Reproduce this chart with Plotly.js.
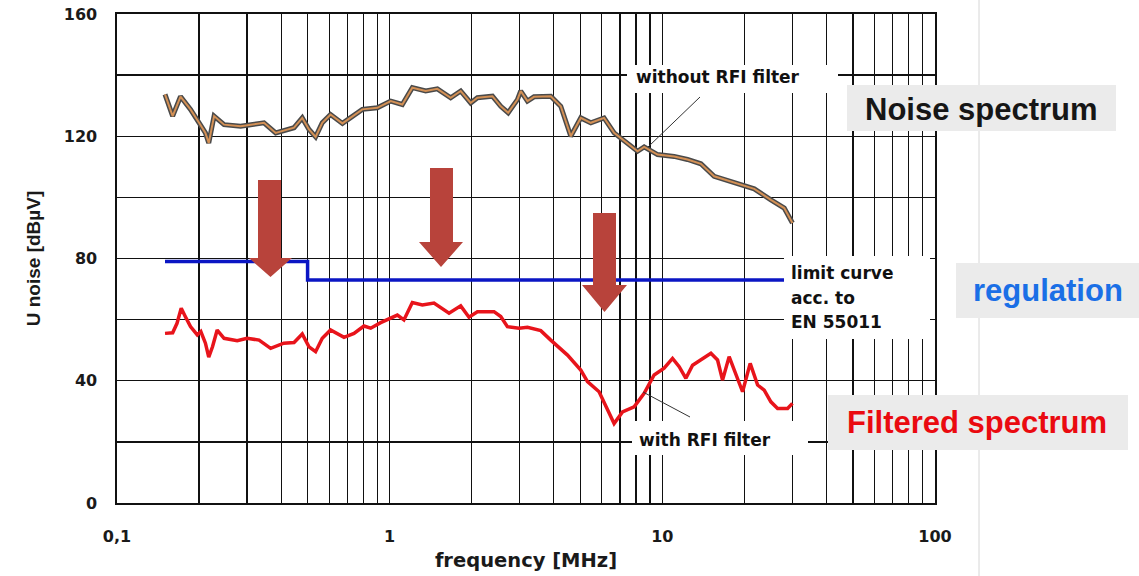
<!DOCTYPE html>
<html><head><meta charset="utf-8">
<script src="https://cdn.plot.ly/plotly-3.0.1.min.js"></script>
<style>html,body{margin:0;padding:0;background:#fff;overflow:hidden;} #chart{width:1139px;height:576px;}</style>
</head><body><div id="chart"></div>
<script>
// ---- data (frequency in MHz, level in dBµV) ----
const freqNoise = [0.150,0.160,0.171,0.186,0.200,0.211,0.217,0.227,0.247,0.284,0.346,0.382,0.446,0.478,0.506,0.535,0.566,0.607,0.671,0.719,0.794,0.901,1.009,1.113,1.211,1.356,1.496,1.674,1.822,1.982,2.098,2.382,2.555,2.720,2.942,3.025,3.201,3.384,3.898,4.242,4.616,5.022,5.466,6.114,6.655,8.110,8.577,9.603,11.05,12.37,13.85,15.49,18.34,21.73,25.01,27.99,30.0];
const dbNoise   = [133.7,126.6,133.0,128.8,124.4,121.1,117.8,126.6,123.8,123.3,124.4,121.1,122.8,126.0,122.2,119.8,124.4,127.1,124.2,126.0,128.8,129.3,131.5,130.4,135.9,134.8,135.5,132.6,134.8,130.9,132.6,133.1,129.8,127.7,132.0,134.8,131.5,132.9,133.1,129.8,120.0,126.0,124.4,126.0,121.1,115.1,116.5,114.0,113.4,112.4,111.0,106.9,104.9,102.8,99.2,96.5,91.6];

const freqFiltered = [0.150,0.160,0.166,0.172,0.178,0.186,0.197,0.203,0.211,0.217,0.224,0.233,0.247,0.276,0.300,0.332,0.366,0.409,0.446,0.478,0.506,0.535,0.566,0.607,0.680,0.740,0.805,0.852,0.927,1.009,1.067,1.128,1.211,1.318,1.454,1.651,1.822,1.954,2.098,2.414,2.555,2.703,2.982,3.201,3.582,3.898,4.489,5.022,5.315,5.861,6.295,6.655,7.143,7.880,8.577,9.330,10.15,10.90,11.53,12.20,12.91,14.05,15.07,15.94,16.63,17.58,18.61,19.69,21.00,22.36,23.64,25.01,26.47,28.80,30.0];
const dbFiltered   = [55.5,55.7,58.8,63.7,61.0,57.7,55.0,56.1,52.3,47.7,51.1,56.6,53.9,53.1,53.9,53.3,50.6,52.3,52.5,55.3,51.1,49.5,53.9,56.6,54.2,55.5,57.9,57.2,59.0,60.5,61.5,59.9,65.6,64.8,65.4,62.1,64.5,60.8,62.6,62.6,61.0,57.7,57.2,57.5,56.4,53.3,48.4,43.5,39.7,36.4,30.4,26.0,29.8,31.5,35.9,41.9,44.1,47.3,44.6,40.8,45.1,47.3,49.0,46.8,40.2,47.9,42.4,36.4,45.7,38.6,36.9,33.1,30.9,30.9,32.6];

const freqLimit = [0.15, 0.5, 30];
const dbLimit   = [79, 73, 73];

const xTickVals = [0.1,0.2,0.3,0.4,0.5,0.6,0.7,0.8,0.9,1,2,3,4,5,6,7,8,9,10,20,30,40,50,60,70,80,90,100];
const xTickText = ['0,1','','','','','','','','','1','','','','','','','','','10','','','','','','','','','100'];
const yTickVals = [0,20,40,60,80,100,120,140,160];
const yTickText = ['0','','40','','80','','120','','160'];

const xTitle = 'frequency [MHz]';
const yTitle = 'U noise [dBµV]';
const labelWithout = 'without RFI filter';
const labelWith = 'with RFI filter';
const labelLimit = ['limit curve','acc. to','EN 55011'];
const boxNoise = 'Noise spectrum';
const boxReg = 'regulation';
const boxFilt = 'Filtered spectrum';

// ---- layout geometry (pixels) ----
const L = 117, R = 935, T = 14, B = 503;
const W = R - L, H = B - T;
const px = x => (x - L) / W;
const py = y => (B - y) / H;

const chartFont = {family: 'DejaVu Sans, sans-serif', size: 17, color: '#111', weight: 'bold'};

function rectShape(x0, y0, x1, y1, fill) {
  return {type: 'rect', xref: 'paper', yref: 'paper', layer: 'above',
    x0: px(x0), x1: px(x1), y0: py(y1), y1: py(y0), fillcolor: fill, line: {width: 0}};
}
function lineShape(x0, y0, x1, y1, color, width) {
  return {type: 'line', xref: 'paper', yref: 'paper', layer: 'above',
    x0: px(x0), y0: py(y0), x1: px(x1), y1: py(y1), line: {color: color, width: width}};
}
function arrowShape(sx0, sx1, top, headY, hx0, hx1, tipY) {
  const pts = [[sx0, top], [sx1, top], [sx1, headY], [hx1, headY], [(hx0 + hx1) / 2, tipY], [hx0, headY], [sx0, headY]];
  const d = pts.map((p, i) => (i ? 'L' : 'M') + px(p[0]).toFixed(5) + ',' + py(p[1]).toFixed(5)).join(' ') + ' Z';
  return {type: 'path', xref: 'paper', yref: 'paper', layer: 'above', path: d,
    fillcolor: '#b8433b', line: {width: 0}};
}

const traces = [
  {x: freqLimit, y: dbLimit, mode: 'lines', line: {color: '#0b16c4', width: 3.5, shape: 'hv'}, name: 'limit', hoverinfo: 'x+y'},
  {x: freqNoise, y: dbNoise, mode: 'lines', line: {color: '#4a4a4a', width: 5}, name: 'without RFI filter', hoverinfo: 'skip'},
  {x: freqNoise, y: dbNoise, mode: 'lines', line: {color: '#d39055', width: 2}, name: 'without RFI filter', hoverinfo: 'x+y'},
  {x: freqFiltered, y: dbFiltered, mode: 'lines', line: {color: '#e8141b', width: 3.5}, name: 'with RFI filter', hoverinfo: 'x+y'}
];

const shapes = [
  // slide divider line
  lineShape(979, 0, 979, 576, '#d6d6d6', 1),
  // white label boxes inside the plot
  rectShape(627, 65, 838, 93, '#ffffff'),
  rectShape(784, 256, 930, 339, '#ffffff'),
  rectShape(632, 421, 808, 455, '#ffffff'),
  // pointer lines
  lineShape(700, 97, 648, 147, '#333', 1),
  lineShape(643, 392, 690, 417, '#333', 1),
  // arrows
  arrowShape(258, 281, 180, 258, 249, 292, 277),
  arrowShape(430, 453, 168, 242, 419, 463, 267),
  arrowShape(593, 616, 213, 285, 582, 627, 312),
  // grey legend boxes
  rectShape(847, 85, 1116, 131, '#ebebeb'),
  rectShape(956, 263, 1139, 318, '#ebebeb'),
  rectShape(828, 395, 1128, 450, '#ebebeb')
];

const bigFont = (c) => ({family: 'Liberation Sans, Arial, sans-serif', size: 31, color: c, weight: 'bold'});

const annotations = [
  {text: labelWithout, xref: 'paper', yref: 'paper', x: px(634), y: py(77), xanchor: 'left', yanchor: 'middle', showarrow: false, font: chartFont},
  {text: labelWith, xref: 'paper', yref: 'paper', x: px(637), y: py(440), xanchor: 'left', yanchor: 'middle', showarrow: false, font: chartFont},
  {text: labelLimit[0], xref: 'paper', yref: 'paper', x: px(789), y: py(273), xanchor: 'left', yanchor: 'middle', showarrow: false, font: chartFont},
  {text: labelLimit[1], xref: 'paper', yref: 'paper', x: px(789), y: py(298), xanchor: 'left', yanchor: 'middle', showarrow: false, font: chartFont},
  {text: labelLimit[2], xref: 'paper', yref: 'paper', x: px(789), y: py(322), xanchor: 'left', yanchor: 'middle', showarrow: false, font: chartFont},
  {text: boxNoise, xref: 'paper', yref: 'paper', x: px(981.5), y: py(109), xanchor: 'center', yanchor: 'middle', showarrow: false, font: bigFont('#161616')},
  {text: boxReg, xref: 'paper', yref: 'paper', x: px(1048), y: py(290), xanchor: 'center', yanchor: 'middle', showarrow: false, font: bigFont('#1a6fe6')},
  {text: boxFilt, xref: 'paper', yref: 'paper', x: px(977), y: py(422), xanchor: 'center', yanchor: 'middle', showarrow: false, font: bigFont('#ea0a10')}
];

const tickFont = {family: 'DejaVu Sans, sans-serif', size: 16, color: '#1a1a1a', weight: 'bold'};

const layout = {
  width: 1139, height: 576,
  margin: {l: L, r: 1139 - R, t: T, b: 576 - B, pad: 0},
  paper_bgcolor: '#ffffff', plot_bgcolor: '#ffffff',
  showlegend: false,
  xaxis: {
    type: 'log', range: [-1, 2],
    tickvals: xTickVals, ticktext: xTickText,
    showgrid: true, gridcolor: '#111', gridwidth: 1.3,
    zeroline: false, showline: true, mirror: true, linecolor: '#111', linewidth: 1.6,
    ticks: '', ticklabelstandoff: 18, tickfont: tickFont,
    title: {text: xTitle, font: {family: 'DejaVu Sans, sans-serif', size: 19.5, color: '#1a1a1a', weight: 'bold'}, standoff: 8}
  },
  yaxis: {
    range: [0, 160],
    tickvals: yTickVals, ticktext: yTickText,
    showgrid: true, gridcolor: '#111', gridwidth: 1.3,
    zeroline: false, showline: true, mirror: true, linecolor: '#111', linewidth: 1.6,
    ticks: '', ticklabelstandoff: 15, tickfont: tickFont,
    title: {text: yTitle, font: {family: 'Liberation Sans, Arial, sans-serif', size: 19, color: '#1a1a1a', weight: 'bold'}, standoff: 18}
  },
  shapes: shapes,
  annotations: annotations
};

Plotly.newPlot('chart', traces, layout, {staticPlot: true, displayModeBar: false});
</script>
</body></html>
